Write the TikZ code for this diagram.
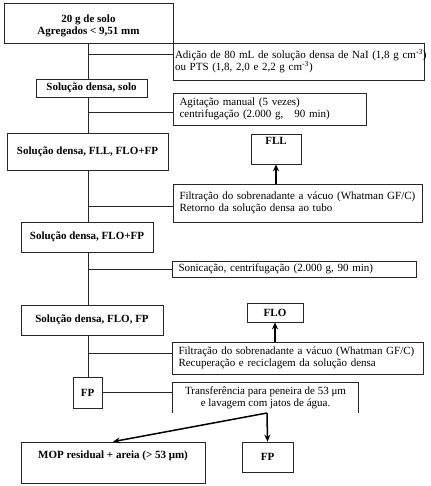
\documentclass[tikz,border=0pt]{standalone}
\usepackage{fontspec}
\setmainfont{Liberation Serif}
\usetikzlibrary{arrows.meta}
\tikzset{
  stage/.style={draw=black!85, line width=0.7pt, font=\bfseries\fontsize{11}{11.5}\selectfont, align=center, inner sep=1pt},
  treat/.style={draw=black!85, line width=0.7pt, font=\fontsize{11}{12}\selectfont, align=left, inner ysep=1pt},
  link/.style={black!85, line width=0.7pt},
  flow/.style={-{Stealth[length=7pt,width=6pt]}, line width=1.5pt}
}
\begin{document}
\begin{tikzpicture}[x=1pt,y=-1pt]
\useasboundingbox (0,0) rectangle (430,486);
\coordinate (t) at (88,0);
% main column
\node[stage, minimum width=169pt, minimum height=40pt] (b1) at (88.5,23.5) {\strut\\[-7pt]20 g de solo\\Agregados < 9,51 mm};
\node[stage, minimum width=111pt, minimum height=18pt] (b2) at (91.5,88) {Solução densa, solo};
\node[stage, minimum width=161pt, minimum height=37pt] (b3) at (87.5,151.5) {Solução densa, FLL, FLO+FP};
\node[stage, minimum width=132pt, minimum height=30pt] (b4) at (87,237) {Solução densa, FLO+FP};
\node[stage, minimum width=142pt, minimum height=30pt] (b5) at (92,320) {Solução densa, FLO, FP};
\node[stage, minimum width=29pt, minimum height=31pt] (fp) at (87.5,392.5) {FP};
% treatments
\node[treat, inner xsep=1.5pt, text width=248pt, minimum height=37pt] (s1) at (299,61.5) {\mbox{Adição de 80 mL de solução densa de NaI (1,8 g cm\textsuperscript{-3})}\\ou PTS (1,8, 2,0 e 2,2 g cm\textsuperscript{-3})};
\node[treat, inner xsep=6pt, text width=181pt, minimum height=32pt] (s2) at (270,109) {Agitação manual (5 vezes)\\centrifugação (2.000 g,\quad 90 min)};
\node[treat, inner xsep=6pt, text width=237pt, minimum height=38pt] (s3) at (298,203) {Filtração do sobrenadante a vácuo (Whatman GF/C)\\Retorno da solução densa ao tubo};
\node[treat, inner xsep=6pt, text width=232pt, minimum height=16pt] (s4) at (294.5,269) {Sonicação, centrifugação (2.000 g, 90 min)};
\node[treat, inner xsep=6pt, text width=239pt, minimum height=32pt] (s5) at (298,358) {Filtração do sobrenadante a vácuo (Whatman GF/C)\\Recuperação e reciclagem da solução densa};
\node[font=\fontsize{11}{12}\selectfont, align=center, minimum width=185pt, minimum height=30pt] (s6) at (265.5,398) {Transferência para peneira de 53 μm\\e lavagem com jatos de água.};
\draw[link] (s6.south west) -- (s6.north west) -- (s6.north east) -- (s6.south east);
% fractions
\node[stage, minimum width=50pt, minimum height=30pt] (fll) at (276,149) {FLL\\[4pt]};
\node[stage, minimum width=56pt, minimum height=19pt] (flo) at (275,312.5) {FLO};
\node[stage, minimum width=184pt, minimum height=41pt] (mop) at (113,462.5) {MOP residual + areia (> 53 μm)\\[4pt]};
\node[stage, minimum width=51pt, minimum height=30pt] (fpb) at (267.5,457) {FP};
% trunk
\draw[link] (t |- b1.south) -- (t |- b2.north);
\draw[link] (t |- b2.south) -- (t |- b3.north);
\draw[link] (t |- b3.south) -- (t |- b4.north);
\draw[link] (t |- b4.south) -- (t |- b5.north);
\draw[link] (t |- b5.south) -- (t |- fp.north);
% branches
\coordinate (j1) at (88,54);
\coordinate (j2) at (88,112);
\coordinate (j3) at (88,206);
\coordinate (j4) at (88,269);
\coordinate (j5) at (88,353);
\draw[link] (j1) -- (j1 -| s1.west);
\draw[link] (j2) -- (j2 -| s2.west);
\draw[link] (j3) -- (j3 -| s3.west);
\draw[link] (j4) -- (j4 -| s4.west);
\draw[link] (j5) -- (j5 -| s5.west);
\draw[link] (fp.east) -- (fp.east -| s6.west);
% arrows
\draw[flow] (s3.north -| fll) -- (fll.south);
\draw[flow] (s5.north -| flo) -- (flo.south);
\coordinate (split) at (267,413);
\draw[flow] (split) -- (mop.north);
\draw[flow] (split) -- (fpb.north);
\end{tikzpicture}
\end{document}
